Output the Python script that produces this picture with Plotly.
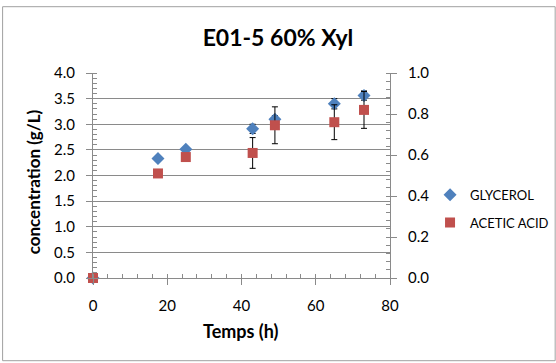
import plotly.graph_objects as go

# Sampling times (h)
temps_h = [0, 17.5, 25, 43, 49, 65, 73]

# Glycerol concentration (g/L), left axis
glycerol = [0, 2.33, 2.51, 2.91, 3.10, 3.40, 3.56]
glycerol_err = [None, None, None, 0.09, 0.07, 0.10, 0.09]

# Acetic acid concentration (g/L), right axis
acetic_acid = [0, 0.51, 0.59, 0.61, 0.745, 0.76, 0.82]
acetic_err = [None, None, None, 0.075, 0.09, 0.085, 0.09]

left_ticks = [0.0, 0.5, 1.0, 1.5, 2.0, 2.5, 3.0, 3.5, 4.0]
right_ticks = [0.0, 0.2, 0.4, 0.6, 0.8, 1.0]
x_ticks = [0, 20, 40, 60, 80]

FONT = "Lato, Carlito, Calibri, sans-serif"
GREY = "#8a8a8a"

# plot-area geometry in pixels, used to place the free-floating text
L, R, T, B = 93.3, 390.0, 73.3, 278.3
W, H = R - L, B - T


def px_x(x):
    return (x - L) / W


def px_y(y):
    return (B - y) / H


fig = go.Figure()

fig.add_trace(go.Scatter(
    x=temps_h, y=glycerol, name="GLYCEROL", mode="markers",
    legendgroup="g",
    marker=dict(symbol="diamond", size=10, color="#4F81BD"),
    error_y=dict(type="data", array=glycerol_err, color="black",
                 thickness=1, width=3, visible=True),
    cliponaxis=False, yaxis="y",
))
fig.add_trace(go.Scatter(
    x=temps_h, y=acetic_acid, name="ACETIC ACID", mode="markers",
    legendgroup="a",
    marker=dict(symbol="square", size=10, color="#C0504D"),
    error_y=dict(type="data", array=acetic_err, color="black",
                 thickness=1, width=3, visible=True),
    cliponaxis=False, yaxis="y2",
))

common = dict(
    showline=True, linecolor=GREY, linewidth=1,
    ticks="outside", ticklen=6, tickcolor=GREY, tickwidth=1,
    tickfont=dict(family=FONT, size=15, color="black"),
    zeroline=False,
)

fig.update_layout(
    width=556, height=363,
    margin=dict(l=93, r=166, t=73, b=85, autoexpand=False),
    paper_bgcolor="white", plot_bgcolor="white",
    showlegend=True,
    title=dict(text="<b>E01-5 60% Xyl</b>", x=0.5, xref="container",
               xanchor="center", y=1 - 38 / 363, yref="container",
               yanchor="middle",
               font=dict(family=FONT, size=23, color="black")),
    xaxis=dict(range=[0, 80], tickvals=x_ticks, showgrid=False,
               minor=dict(ticks="inside", dtick=4, ticklen=4, tickcolor=GREY),
               ticklabelstandoff=8, **common),
    yaxis=dict(range=[0, 4], tickvals=left_ticks, tickformat=".1f",
               showgrid=True, gridcolor=GREY, gridwidth=1,
               minor=dict(ticks="inside", dtick=0.1, ticklen=4, tickcolor=GREY),
               ticklabelstandoff=8, **common),
    yaxis2=dict(range=[0, 1], tickvals=right_ticks, tickformat=".1f",
                overlaying="y", side="right", showgrid=False,
                minor=dict(ticks="inside", dtick=0.04, ticklen=4, tickcolor=GREY),
                ticklabelstandoff=8, **common),
    legend=dict(x=px_x(430), y=px_y(209), xanchor="left", yanchor="middle",
                font=dict(family=FONT, size=13, color="black"),
                itemwidth=30, traceorder="grouped", tracegroupgap=8,
                bgcolor="rgba(0,0,0,0)"),
    annotations=[
        dict(text="<b>concentration (g/L)</b>", xref="paper", yref="paper",
             x=px_x(34), y=px_y(182), textangle=-90,
             showarrow=False, xanchor="center", yanchor="middle",
             font=dict(family=FONT, size=17, color="black")),
        dict(text="<b>Temps (h)</b>", xref="paper", yref="paper",
             x=px_x(241), y=px_y(331),
             showarrow=False, xanchor="center", yanchor="middle",
             font=dict(family=FONT, size=18, color="black")),
    ],
    shapes=[
        dict(type="rect", xref="paper", yref="paper",
             x0=px_x(3), x1=px_x(555), y0=px_y(361), y1=px_y(7),
             line=dict(color="#a0a0a0", width=1), layer="below"),
    ],
)

fig.write_html("out.html")
